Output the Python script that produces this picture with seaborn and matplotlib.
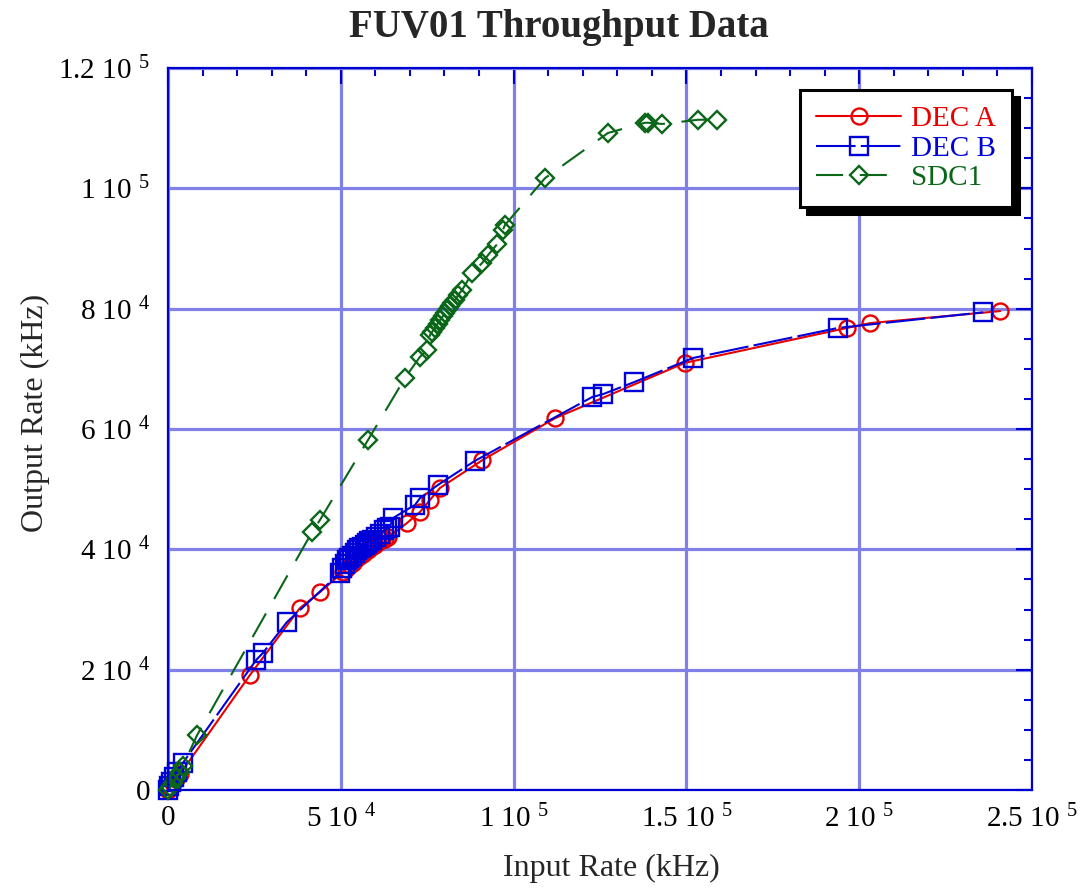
import matplotlib
matplotlib.use("Agg")
import matplotlib.pyplot as plt
from matplotlib.ticker import AutoMinorLocator
import seaborn as sns
import pandas as pd

# ---------------- data (kHz) ----------------
dec_a_in = [0, 580, 1450, 2300, 3500, 23700, 38200, 44000, 50600, 51600, 52700, 53400,
            54100, 54800, 55600, 56300, 57000, 57800, 58500, 59200, 59900, 60900,
            61900, 62800, 63700, 69200, 72900, 75800, 78700,
            90900, 112000, 149600, 196500, 203200, 240800]
dec_a_out = [0, 500, 1160, 1830, 2660, 19100, 30250, 32900, 36200, 36800, 37400, 37800,
             38200, 38600, 38900, 39300, 39600, 39900, 40200, 40500, 40700, 41200,
             41600, 41800, 42000, 44400, 46200, 48200, 50200,
             54800, 61800, 71000, 76800, 77600, 79600]

dec_b_in = [0, 290, 870, 1740, 2600, 4300, 25500, 27500, 34400, 49800, 50400, 51100,
            51800, 52500, 53200, 54000, 54700, 55400, 56100, 56900, 57600, 58300,
            59000, 60200, 61400, 62500, 63400, 64200, 65100,
            71500, 72900, 78100, 88800, 122700, 125900, 134900, 151900, 193900, 235900]
dec_b_out = [0, 660, 1330, 2160, 3000, 4500, 21600, 22800, 27900, 36100, 36900, 37600,
             38200, 38600, 38900, 39400, 39900, 40200, 40400, 40800, 41100, 41400,
             41600, 42100, 42500, 43200, 43500, 43700, 45200,
             47400, 48500, 50700, 54700, 65300, 65800, 67800, 71800, 76800, 79400]

sdc1_in = [0, 580, 1450, 2300, 3500, 4300, 8400, 41700, 44000, 57900, 68600, 72900,
           75000, 75800, 76500, 77300, 78000, 78700, 79500, 80200, 80900, 81600,
           82300, 83100, 84000, 85100, 88000, 90900,
           92600, 95200, 96900, 97500, 109100, 127300, 138000, 138900, 143000,
           153400, 158900]
sdc1_out = [0, 500, 1160, 2000, 3000, 4000, 9100, 42900, 44900, 58200, 68500, 72000,
            73100, 75600, 76200, 76800, 77500, 78100, 78700, 79300, 79900, 80400,
            80900, 81400, 82300, 83100, 85900, 87600,
            88900, 90700, 93100, 93900, 101700, 109200, 110900, 110900, 110700,
            111400, 111400]

x_ticks = [0, 50000, 100000, 150000, 200000, 250000]
x_tick_labels = ['0', '5 10 $^{4}$', '1 10 $^{5}$', '1.5 10 $^{5}$', '2 10 $^{5}$', '2.5 10 $^{5}$']
y_ticks = [0, 20000, 40000, 60000, 80000, 100000, 120000]
y_tick_labels = ['0', '2 10 $^{4}$', '4 10 $^{4}$', '6 10 $^{4}$', '8 10 $^{4}$', '1 10 $^{5}$', '1.2 10 $^{5}$']

series_names = ['DEC A', 'DEC B', 'SDC1']

# ---------------- style ----------------
sns.set_theme(style='white')
plt.rcParams['font.family'] = ['Liberation Serif', 'DejaVu Serif']
plt.rcParams['mathtext.fontset'] = 'custom'
plt.rcParams['mathtext.rm'] = 'Liberation Serif'
plt.rcParams['mathtext.it'] = 'Liberation Serif:italic'
plt.rcParams['mathtext.bf'] = 'Liberation Serif:bold'

RED = '#e80000'
BLUE = '#0000d8'
GREEN = '#0a6618'
GRID = '#8080e6'
SPINE = '#0000d0'

fig = plt.figure(figsize=(10.81, 8.89), dpi=100)
ax = fig.add_axes([168 / 1081, 1 - 790 / 889, (1032 - 168) / 1081, (790 - 68) / 889])

df_a = pd.DataFrame({'x': dec_a_in, 'y': dec_a_out})
df_b = pd.DataFrame({'x': dec_b_in, 'y': dec_b_out})
df_s = pd.DataFrame({'x': sdc1_in, 'y': sdc1_out})

common = dict(estimator=None, sort=False, ax=ax, markerfacecolor='none',
              markeredgewidth=1.7, linewidth=1.5, clip_on=False, zorder=3)

sns.lineplot(data=df_a, x='x', y='y', color=RED, marker='o', markersize=11.5,
             markeredgecolor=RED, linestyle='-', label=series_names[0], **common)
sns.lineplot(data=df_b, x='x', y='y', color=BLUE, marker='s', markersize=12.5,
             markeredgecolor=BLUE, linestyle=(0, (19, 2.5)), label=series_names[1], **common)
sns.lineplot(data=df_s, x='x', y='y', color=GREEN, marker='D', markersize=9.5,
             markeredgecolor=GREEN, linestyle=(0, (13, 8)), label=series_names[2], **common)

ax.set_xlim(0, 250000)
ax.set_ylim(0, 120000)
ax.set_xticks(x_ticks)
ax.set_xticklabels(x_tick_labels, fontsize=21)
ax.set_yticks(y_ticks)
ax.set_yticklabels(y_tick_labels, fontsize=21)
ax.xaxis.set_minor_locator(AutoMinorLocator(5))
ax.yaxis.set_minor_locator(AutoMinorLocator(4))
ax.tick_params(which='both', direction='in', top=True, right=True, color=SPINE, width=1.5)
ax.tick_params(which='major', length=11.5)
ax.tick_params(which='minor', length=5.8)
ax.tick_params(axis='x', which='major', pad=11, labelcolor='black')
ax.tick_params(axis='y', which='major', pad=13, labelcolor='black')

ax.grid(True, which='major', color=GRID, linewidth=2.3, zorder=0)
ax.set_axisbelow(True)
for sp in ax.spines.values():
    sp.set_color(SPINE)
    sp.set_linewidth(1.6)
    sp.set_visible(True)
    sp.set_zorder(4)

ax.set_xlabel('')
ax.set_ylabel('')

leg = ax.legend(loc='upper right', bbox_to_anchor=(0.977, 0.9695), fontsize=21,
                frameon=True, fancybox=False, labelcolor='linecolor',
                handlelength=2.9, handletextpad=0.35, labelspacing=0.1,
                borderpad=0.55, borderaxespad=0,
                shadow={'ox': 5, 'oy': -5, 'color': 'black', 'alpha': 1})
leg.get_frame().set_edgecolor('black')
leg.get_frame().set_linewidth(2.2)
leg.set_zorder(6)

fig.text(559 / 1081, 1 - 27 / 889, 'FUV01 Throughput Data', ha='center', va='center',
         fontsize=28, fontweight='bold')
fig.text(611 / 1081, 1 - 868 / 889, 'Input Rate (kHz)', ha='center', va='center', fontsize=23)
fig.text(35 / 1081, 1 - 413 / 889, 'Output Rate (kHz)', ha='center', va='center',
         fontsize=23, rotation=90)

fig.savefig('out.png', dpi=100)
